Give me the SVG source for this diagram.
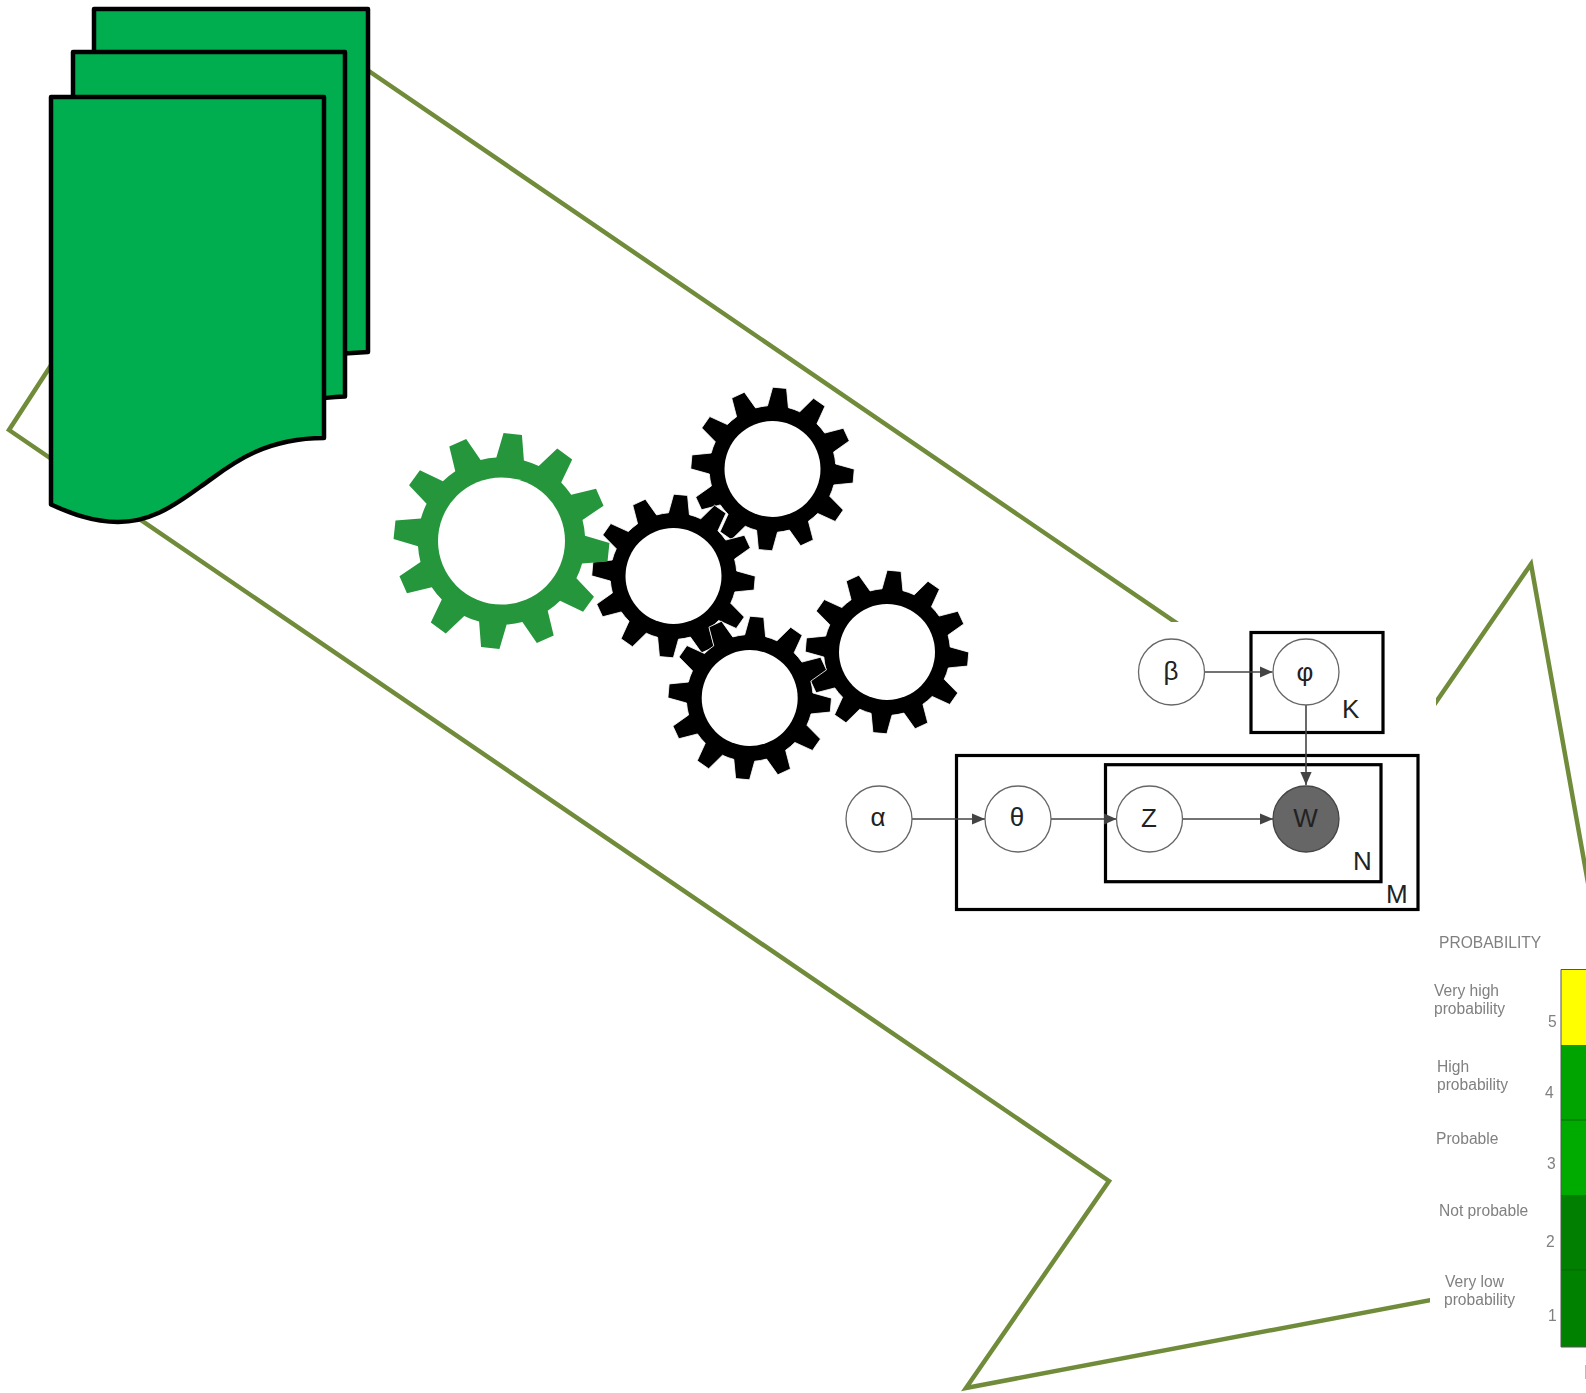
<svg xmlns="http://www.w3.org/2000/svg" width="1586" height="1393" viewBox="0 0 1586 1393">
<style>
.doc{fill:#00AE50;stroke:#000;stroke-width:4.5;stroke-linejoin:round}
.gk{fill:#000;stroke:#fff;stroke-width:0.8}
.gg{fill:#26963C}
.hole{fill:#fff}
.node{fill:#fff;stroke:#666;stroke-width:1.3}
.plate{fill:none;stroke:#000;stroke-width:3.2}
.lbl{font-family:"Liberation Sans",Arial,sans-serif;font-size:26px;fill:#222}
.mid{text-anchor:middle}
.ch{font-family:"Liberation Sans",Arial,sans-serif;font-size:15.6px;fill:#808080;filter:url(#soft)}
.conn{stroke:#444;stroke-width:1.6;fill:none;marker-end:url(#ah)}
</style>
<defs>
<filter id="soft" x="-10%" y="-30%" width="120%" height="160%"><feGaussianBlur stdDeviation="0.55"/></filter>
<marker id="ah" markerUnits="userSpaceOnUse" markerWidth="13" markerHeight="12" refX="13" refY="6" orient="auto"><path d="M0 0.4L13 6 0 11.6Z" fill="#444"/></marker>
<path id="gear" d="M-10.5-62.5L-7-81.5 7-81.5 10.5-62.5A63.4 63.4 0 0 1 22.16-59.38L34.69-74.08 46.81-67.08 40.34-48.88A63.4 63.4 0 0 1 48.88-40.34L67.08-46.81 74.08-34.69 59.38-22.16A63.4 63.4 0 0 1 62.5-10.5L81.5-7 81.5 7 62.5 10.5A63.4 63.4 0 0 1 59.38 22.16L74.08 34.69 67.08 46.81 48.88 40.34A63.4 63.4 0 0 1 40.34 48.88L46.81 67.08 34.69 74.08 22.16 59.38A63.4 63.4 0 0 1 10.5 62.5L7 81.5-7 81.5-10.5 62.5A63.4 63.4 0 0 1-22.16 59.38L-34.69 74.08-46.81 67.08-40.34 48.88A63.4 63.4 0 0 1-48.88 40.34L-67.08 46.81-74.08 34.69-59.38 22.16A63.4 63.4 0 0 1-62.5 10.5L-81.5 7-81.5-7-62.5-10.5A63.4 63.4 0 0 1-59.38-22.16L-74.08-34.69-67.08-46.81-48.88-40.34A63.4 63.4 0 0 1-40.34-48.88L-46.81-67.08-34.69-74.08-22.16-59.38A63.4 63.4 0 0 1-10.5-62.5Z"/>
</defs>
<rect width="1586" height="1393" fill="#fff"/>
<g id="block-arrow"><polygon points="281,11 1390,769 1531,564 1600,950 1600,1268 966,1388 1109,1181 9,430" fill="none" stroke="#708C3A" stroke-width="4.5"/></g>
<g id="lda-backdrop"><rect x="1000" y="622" width="436" height="308" fill="#fff"/></g>
<g id="chart">
<rect x="1430" y="925" width="156" height="468" fill="#fff"/>
<rect x="1561" y="969.5" width="27" height="75.5" fill="#FFFF00"/>
<rect x="1561" y="1045" width="27" height="75" fill="#00A400"/>
<rect x="1561" y="1120" width="27" height="75" fill="#00AB00"/>
<rect x="1561" y="1195" width="27" height="75" fill="#007F00"/>
<rect x="1561" y="1270" width="27" height="77" fill="#008200"/>
<path d="M1561 1120H1586M1561 1270H1586" stroke="#006a00" stroke-width="1" fill="none"/>
<path d="M1586 969.5H1561V1347H1586" stroke="#555" stroke-width="1" fill="none"/>
<path d="M1585.500 1365V1379" stroke="#bbb" stroke-width="1" fill="none"/>
<text class="ch" x="1439" y="948">PROBABILITY</text>
<text class="ch" x="1434" y="996">Very high</text>
<text class="ch" x="1434" y="1014">probability</text>
<text class="ch" x="1437" y="1072">High</text>
<text class="ch" x="1437" y="1090">probability</text>
<text class="ch" x="1436" y="1144">Probable</text>
<text class="ch" x="1439" y="1216">Not probable</text>
<text class="ch" x="1445" y="1287">Very low</text>
<text class="ch" x="1444" y="1305">probability</text>
<text class="ch" x="1548" y="1027">5</text>
<text class="ch" x="1545" y="1098">4</text>
<text class="ch" x="1547" y="1169">3</text>
<text class="ch" x="1546" y="1247">2</text>
<text class="ch" x="1548" y="1321">1</text>
</g>
<g id="doc-back"><path class="doc" d="M94 9H368V352C355 352.500 342 353.500 330 355V370H94Z"/></g>
<g id="doc-middle"><path class="doc" d="M73 52H345V396.500C335 397 322 398 310 400V420H73Z"/></g>
<g id="doc-front"><path class="doc" d="M51 97H324V438C258 438 225 470 200 487C170 509 148 522 118 522C92 522 70 513 51 504.500Z"/></g>
<g id="gear-4"><use href="#gear" class="gk" transform="translate(887,652) rotate(5)"/><circle class="hole" cx="887" cy="652" r="48"/></g>
<g id="gear-1"><use href="#gear" class="gk" transform="translate(772.500,469) rotate(5)"/><circle class="hole" cx="772.500" cy="469" r="48"/></g>
<g id="gear-2"><use href="#gear" class="gk" transform="translate(673.500,576) rotate(5)"/><circle class="hole" cx="673.500" cy="576" r="48"/></g>
<g id="gear-3"><use href="#gear" class="gk" transform="translate(749.700,698) rotate(5)"/><circle class="hole" cx="749.700" cy="698" r="48"/></g>
<g id="gear-green"><use href="#gear" class="gg" transform="translate(501.500,541) rotate(6) scale(1.32)"/><circle class="hole" cx="501.500" cy="541" r="63.500"/></g>
<g id="plate-k"><rect class="plate" x="1251" y="632.500" width="132" height="100"/><text class="lbl" x="1342" y="718">K</text></g>
<g id="plate-m"><rect class="plate" x="956.500" y="755.500" width="461.500" height="154"/><text class="lbl" x="1386" y="903">M</text></g>
<g id="plate-n"><rect class="plate" x="1105.500" y="764.700" width="275.500" height="117"/><text class="lbl" x="1353" y="870">N</text></g>
<g id="connectors">
<path class="conn" d="M1204.500 672H1272.500"/>
<path class="conn" d="M1306 705V785"/>
<path class="conn" d="M912 819H985"/>
<path class="conn" d="M1051 819H1116.500"/>
<path class="conn" d="M1182.500 819H1273"/>
</g>
<g id="node-beta"><circle class="node" cx="1171.500" cy="672" r="33"/><text class="lbl mid" x="1171" y="680">β</text></g>
<g id="node-phi"><circle class="node" cx="1306" cy="672" r="33"/><text class="lbl mid" x="1305" y="681">φ</text></g>
<g id="node-alpha"><circle class="node" cx="879" cy="819" r="33"/><text class="lbl mid" x="878" y="826">α</text></g>
<g id="node-theta"><circle class="node" cx="1018" cy="819" r="33"/><text class="lbl mid" x="1017" y="826">θ</text></g>
<g id="node-z"><circle class="node" cx="1149.500" cy="819" r="33"/><text class="lbl mid" x="1149" y="826.500">Z</text></g>
<g id="node-w"><circle cx="1306" cy="819" r="33" fill="#666" stroke="#444" stroke-width="1.3"/><text class="lbl mid" x="1305.500" y="826.500">W</text></g>
</svg>
